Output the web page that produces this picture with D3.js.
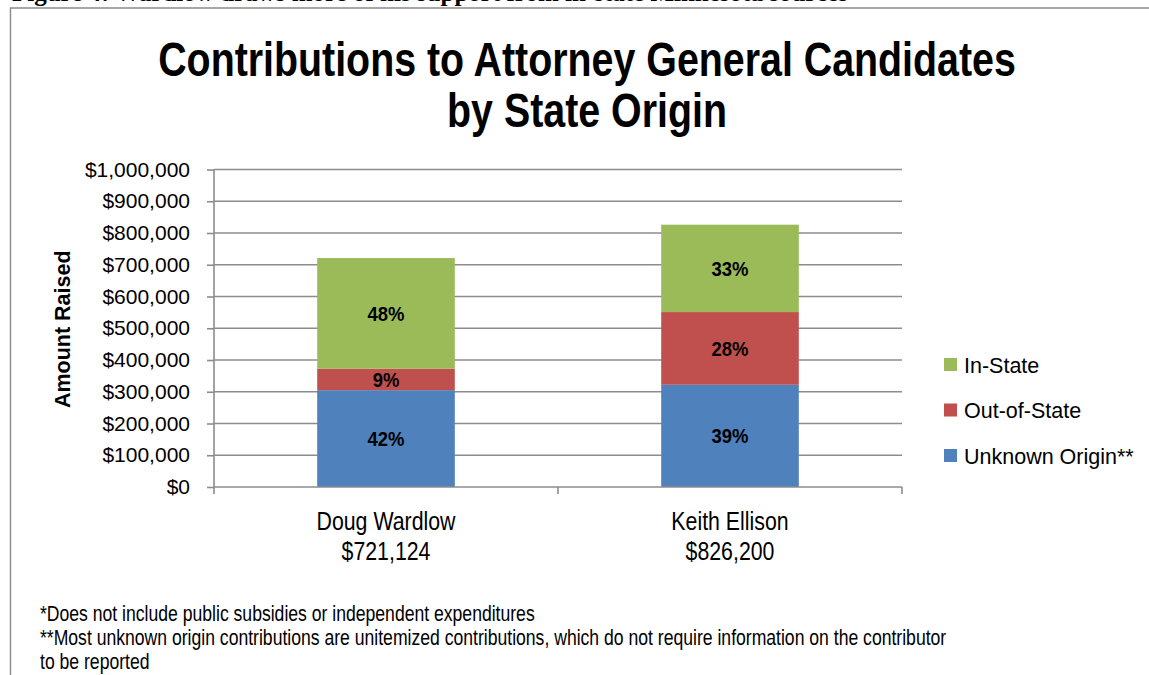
<!DOCTYPE html>
<html>
<head>
<meta charset="utf-8">
<script src="https://cdn.jsdelivr.net/npm/d3@7"></script>
<style>
  html, body { margin: 0; padding: 0; background: #ffffff; overflow: hidden; }
  svg { display: block; }
</style>
</head>
<body>
<svg id="chart" width="1149" height="675"></svg>
<script>
// ---- data ----
const candidates = ["Doug Wardlow", "Keith Ellison"];
const totals = [721124, 826200];
const unknownOrigin = [305000, 322000];
const outOfState = [67500, 229000];
const inState = [348624, 275200];
const seriesNames = ["Unknown Origin**", "Out-of-State", "In-State"];
const seriesColors = ["#4F81BD", "#C0504D", "#9BBB59"];
const yTicks = [0, 100000, 200000, 300000, 400000, 500000, 600000, 700000, 800000, 900000, 1000000];
const titleLines = ["Contributions to Attorney General Candidates", "by State Origin"];
const footnotes = [
  "*Does not include public subsidies or independent expenditures",
  "**Most unknown origin contributions are unitemized contributions, which do not require information on the contributor",
  "to be reported"
];
const caption = "Figure 4: Wardlow draws more of his support from in-state Minnesota sources";

// ---- layout ----
const W = 1149, H = 675;
const plot = { left: 214, right: 902, top: 169.5, bottom: 487 };
const SANS = "'Liberation Sans', Arial, Helvetica, sans-serif";
const NARROW = 0.82;
const gridColor = "#8c8c8c";

const svg = d3.select("#chart");

// condensed text: draw regular face squeezed horizontally
function narrowText(sel, x, y, k) {
  return sel.attr("x", 0).attr("y", 0)
    .attr("transform", `translate(${x},${y}) scale(${k},1)`);
}

// caption above the frame (mostly cropped off the top)
svg.append("text")
  .attr("x", 12).attr("y", 0.8)
  .attr("font-family", "'Liberation Serif', 'Times New Roman', serif")
  .attr("font-weight", "bold")
  .attr("font-size", 25)
  .attr("fill", "#000")
  .text(caption);

// frame
svg.append("path")
  .attr("d", `M10.5,${H} V8 H${W}`)
  .attr("fill", "none")
  .attr("stroke", "#8a8a8a")
  .attr("stroke-width", 1.4);

// title
titleLines.forEach((t, i) => {
  narrowText(svg.append("text"), 587, 76 + i * 51, NARROW)
    .attr("text-anchor", "middle")
    .attr("font-family", SANS)
    .attr("font-weight", "bold")
    .attr("font-size", 48)
    .attr("fill", "#000")
    .text(t);
});

// scales
const x = d3.scaleBand()
  .domain(candidates)
  .range([plot.left, plot.right])
  .paddingInner(0.6)
  .paddingOuter(0.3);

const y = d3.scaleLinear()
  .domain([0, 1000000])
  .range([plot.bottom, plot.top]);

// gridlines
svg.append("g")
  .selectAll("line")
  .data(yTicks.filter(d => d > 0))
  .join("line")
  .attr("x1", plot.left).attr("x2", plot.right)
  .attr("y1", d => y(d)).attr("y2", d => y(d))
  .attr("stroke", gridColor)
  .attr("stroke-width", 1.6);

// y axis
const yAxis = svg.append("g")
  .attr("transform", `translate(${plot.left},0)`)
  .call(d3.axisLeft(y).tickValues(yTicks).tickFormat(d3.format("$,")).tickSize(7).tickPadding(17));
yAxis.select(".domain").remove();
yAxis.selectAll(".tick line").attr("stroke", gridColor).attr("stroke-width", 1.6);
yAxis.selectAll(".tick text")
  .attr("font-family", SANS)
  .attr("font-size", 21)
  .attr("fill", "#000");
svg.append("line")
  .attr("x1", plot.left).attr("x2", plot.left)
  .attr("y1", plot.top).attr("y2", plot.bottom + 7)
  .attr("stroke", gridColor).attr("stroke-width", 1.6);

// y axis title
svg.append("text")
  .attr("transform", `translate(70,${(plot.top + plot.bottom) / 2 + 1}) rotate(-90)`)
  .attr("text-anchor", "middle")
  .attr("font-family", SANS)
  .attr("font-weight", "bold")
  .attr("font-size", 21.5)
  .attr("fill", "#000")
  .text("Amount Raised");

// stacked bars
const rows = candidates.map((c, i) => ({
  name: c,
  total: totals[i],
  "Unknown Origin**": unknownOrigin[i],
  "Out-of-State": outOfState[i],
  "In-State": inState[i]
}));
const stacked = d3.stack().keys(seriesNames)(rows);
const pct = d3.format(".0%");

const layers = svg.append("g")
  .selectAll("g")
  .data(stacked)
  .join("g")
  .attr("fill", (d, i) => seriesColors[i]);

layers.selectAll("rect")
  .data(d => d)
  .join("rect")
  .attr("x", d => x(d.data.name))
  .attr("width", x.bandwidth())
  .attr("y", d => y(d[1]))
  .attr("height", d => y(d[0]) - y(d[1]));

// percentage labels
stacked.forEach(layer => {
  layer.forEach(d => {
    const share = (d[1] - d[0]) / d.data.total;
    narrowText(svg.append("text"), x(d.data.name) + x.bandwidth() / 2, (y(d[0]) + y(d[1])) / 2 + 7.5, 0.88)
      .attr("text-anchor", "middle")
      .attr("font-family", SANS)
      .attr("font-weight", "bold")
      .attr("font-size", 21)
      .attr("fill", "#000")
      .text(pct(Math.round(share * 100) / 100));
  });
});

// x axis
svg.append("line")
  .attr("x1", plot.left).attr("x2", plot.right)
  .attr("y1", plot.bottom).attr("y2", plot.bottom)
  .attr("stroke", gridColor).attr("stroke-width", 1.6);
const boundaries = [x.step() + plot.left, plot.right];
svg.append("g")
  .selectAll("line")
  .data(boundaries)
  .join("line")
  .attr("x1", d => d).attr("x2", d => d)
  .attr("y1", plot.bottom).attr("y2", plot.bottom + 7)
  .attr("stroke", gridColor).attr("stroke-width", 1.6);

// category labels
const money = d3.format("$,");
rows.forEach(r => {
  const cx = x(r.name) + x.bandwidth() / 2;
  narrowText(svg.append("text"), cx, 530, NARROW)
    .attr("text-anchor", "middle")
    .attr("font-family", SANS)
    .attr("font-size", 26)
    .attr("fill", "#000")
    .text(r.name);
  narrowText(svg.append("text"), cx, 560, NARROW)
    .attr("text-anchor", "middle")
    .attr("font-family", SANS)
    .attr("font-size", 26)
    .attr("fill", "#000")
    .text(money(r.total));
});

// legend (top entry is the top of the stack)
const legendItems = seriesNames.map((n, i) => ({ name: n, color: seriesColors[i] })).reverse();
const legend = svg.append("g")
  .selectAll("g")
  .data(legendItems)
  .join("g")
  .attr("transform", (d, i) => `translate(944,${358 + i * 45.5})`);
legend.append("rect")
  .attr("width", 13).attr("height", 13)
  .attr("fill", d => d.color);
legend.append("text")
  .attr("x", 20).attr("y", 14.5)
  .attr("font-family", SANS)
  .attr("font-size", 21.5)
  .attr("fill", "#000")
  .text(d => d.name);

// footnotes
footnotes.forEach((t, i) => {
  narrowText(svg.append("text"), 40, 621 + i * 24, 0.8)
    .attr("font-family", SANS)
    .attr("font-size", 22)
    .attr("fill", "#000")
    .text(t);
});
</script>
</body>
</html>
